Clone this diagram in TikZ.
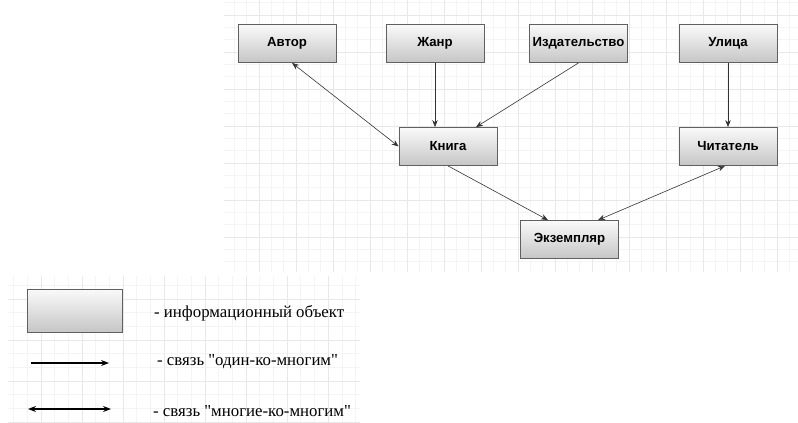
\documentclass[tikz,border=0pt]{standalone}
\usepackage{fontspec}
\newfontfamily\legfont{Liberation Serif}
\newfontfamily\boxfont{Liberation Sans}
\usetikzlibrary{arrows.meta}
\tikzset{
  entity/.style={draw=gray!75!black, line width=0.8pt, top color=gray!4, bottom color=gray!45,
    minimum width=98pt, minimum height=38pt, inner sep=0pt,
    font=\boxfont\bfseries\fontsize{13.2}{15}\selectfont},
  conn/.style={draw=black!80, line width=0.6pt, -{Stealth[length=7pt,width=5.5pt]}},
  conn2/.style={draw=black!80, line width=0.6pt, {Stealth[length=7pt,width=5.5pt]}-{Stealth[length=7pt,width=5.5pt]}},
  legarrow/.style={draw=black, line width=1.1pt, -{Stealth[length=8pt,width=6pt]}},
  legarrow2/.style={draw=black, line width=1.1pt, {Stealth[length=8pt,width=6pt]}-{Stealth[length=8pt,width=6pt]}},
  legtext/.style={anchor=west, inner sep=0pt, font=\legfont\fontsize{16.8}{19}\selectfont},
  gridminor/.style={draw=gray!9, line width=0.5pt},
  gridmajor/.style={draw=gray!18, line width=0.6pt}
}
\begin{document}
\begin{tikzpicture}[x=1pt,y=-1pt]
\useasboundingbox (0,0) rectangle (798,423);
% top grid
\begin{scope}
\clip (224,0) rectangle (798,272);
\foreach \i in {0,...,48} {\draw[gridminor] ({222+12.33*\i},0) -- ({222+12.33*\i},272);}
\foreach \i in {0,...,24} {\draw[gridminor] (224,{-22+12.33*\i}) -- (798,{-22+12.33*\i});}
\foreach \i in {0,...,16} {\draw[gridmajor] ({222+37*\i},0) -- ({222+37*\i},272);}
\foreach \i in {0,...,8} {\draw[gridmajor] (224,{-22+37*\i}) -- (798,{-22+37*\i});}
\end{scope}
% legend grid
\begin{scope}
\clip (8,276) rectangle (360,423);
\foreach \i in {0,...,27} {\draw[gridminor] ({0+13.67*\i},276) -- ({0+13.67*\i},423);}
\foreach \i in {0,...,12} {\draw[gridminor] (8,{258+13.67*\i}) -- (360,{258+13.67*\i});}
\foreach \i in {0,...,9} {\draw[gridmajor] ({0+41*\i},276) -- ({0+41*\i},423);}
\foreach \i in {0,...,4} {\draw[gridmajor] (8,{258+41*\i}) -- (360,{258+41*\i});}
\end{scope}

\node[entity] (avtor) at (287,43.5) {Автор};
\node[entity] (zhanr) at (435,43.5) {Жанр};
\node[entity] (izd) at (578.5,43.5) {Издательство};
\node[entity] (ulica) at (728,43.5) {Улица};
\node[entity] (kniga) at (448,146.5) {Книга};
\node[entity] (chit) at (728,146.5) {Читатель};
\node[entity] (ekz) at (569.5,239.5) {Экземпляр};

\draw[conn2] ([xshift=5pt]avtor.south) -- (kniga.west);
\draw[conn] (zhanr.south) -- (zhanr.south |- kniga.north);
\draw[conn] (izd.south) -- ([xshift=28pt]kniga.north);
\draw[conn] (ulica.south) -- (chit.north);
\draw[conn] (kniga.south) -- ([xshift=-21.5pt]ekz.north);
\draw[conn2] ([xshift=-3pt]chit.south) -- ([xshift=28.5pt]ekz.north);

% legend
\node[entity, minimum width=95pt, minimum height=43pt] (legbox) at (74.5,310.5) {};
\node[legtext] (t1) at (154,313) {- информационный объект};
\coordinate (a1s) at (31,363);
\coordinate (a1e) at (109,363);
\draw[legarrow] (a1s) -- (a1e);
\node[legtext] (t2) at (157,362) {- связь "один-ко-многим"};
\coordinate (a2s) at (28,409);
\coordinate (a2e) at (111,409);
\draw[legarrow2] (a2s) -- (a2e);
\node[legtext] (t3) at (153,411) {- связь "многие-ко-многим"};
\end{tikzpicture}
\end{document}
